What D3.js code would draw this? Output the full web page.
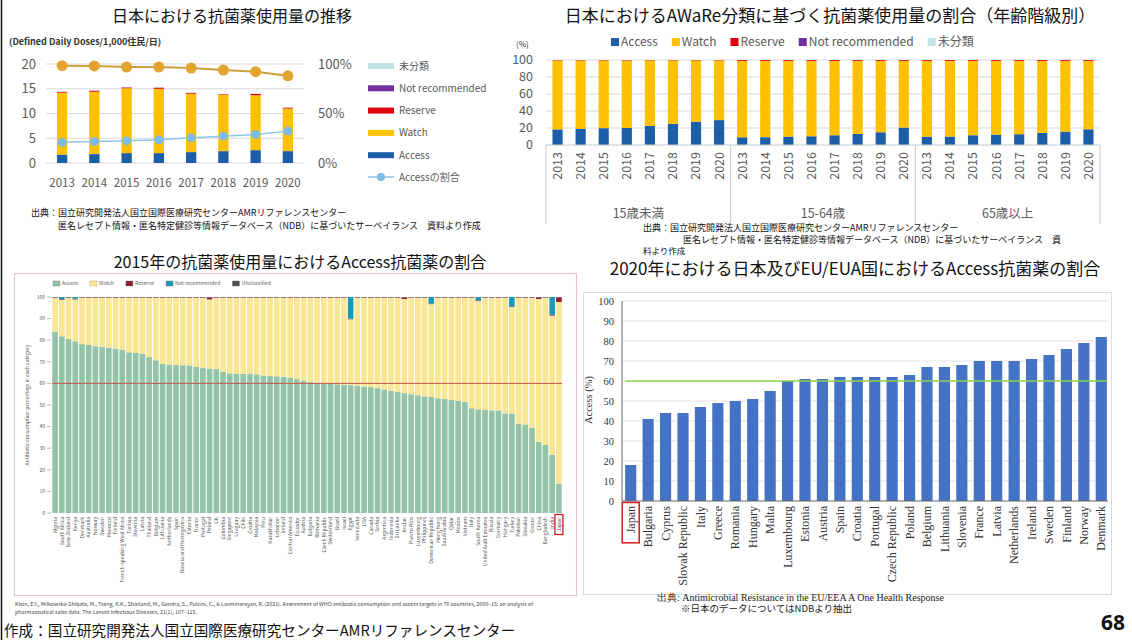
<!DOCTYPE html>
<html><head><meta charset="utf-8">
<script src="https://cdn.jsdelivr.net/npm/d3@7"></script>
<style>
html,body{margin:0;padding:0;background:#fff;}
svg{display:block;font-family:"Noto Sans CJK JP","Noto Sans",sans-serif;}
</style></head><body>
<svg id="slide" width="1132" height="640"></svg>
<script>
// ---------- Panel A: national antimicrobial use trend (DDD / 1,000 inhabitants / day)
const trendYears = ["2013","2014","2015","2016","2017","2018","2019","2020"];
const trendAccess = [1.7, 1.8, 2.0, 2.0, 2.2, 2.4, 2.6, 2.4];
const trendWatch = [12.5, 12.6, 13.1, 13.0, 11.8, 11.4, 11.1, 8.6];
const trendReserve = [0.15, 0.2, 0.15, 0.2, 0.15, 0.1, 0.25, 0.15];
const trendNotRecommended = [0.03, 0.03, 0.03, 0.03, 0.03, 0.03, 0.03, 0.03];
const trendUnclassified = [0.02, 0.02, 0.02, 0.02, 0.02, 0.02, 0.02, 0.02];
const trendAccessShare = [21.0, 21.7, 22.4, 23.4, 25.4, 27.1, 28.8, 32.2];
const trendUpperShare = [98.3, 98.0, 96.9, 96.9, 95.9, 93.9, 92.2, 88.1];
const trendLeftTicks = [0, 5, 10, 15, 20];
const trendRightTicks = ["0%", "50%", "100%"];

// ---------- Panel B: AWaRe share by age group (%)
const ageGroups = ["15歳未満", "15-64歳", "65歳以上"];
const ageAccess = [
  [18.4, 19.0, 19.8, 20.0, 22.5, 25.0, 27.5, 29.3],
  [9.1, 9.2, 9.9, 10.3, 11.5, 13.0, 15.0, 20.5],
  [9.9, 10.0, 11.5, 12.3, 12.7, 14.2, 15.8, 18.5]
];
const ageWatch = [
  [81.1, 80.5, 79.7, 79.5, 77.0, 74.5, 72.0, 70.2],
  [89.8, 89.7, 89.0, 88.6, 87.4, 85.9, 83.9, 78.4],
  [89.0, 88.9, 87.4, 86.6, 86.2, 84.7, 83.1, 80.4]
];
const ageReserve = [
  [0.4, 0.4, 0.4, 0.4, 0.4, 0.4, 0.4, 0.4],
  [1.0, 1.0, 1.0, 1.0, 1.0, 1.0, 1.0, 1.0],
  [1.0, 1.0, 1.0, 1.0, 1.0, 1.0, 1.0, 1.0]
];
const ageNotRecommended = [
  [0.1, 0.1, 0.1, 0.1, 0.1, 0.1, 0.1, 0.1],
  [0.1, 0.1, 0.1, 0.1, 0.1, 0.1, 0.1, 0.1],
  [0.1, 0.1, 0.1, 0.1, 0.1, 0.1, 0.1, 0.1]
];
const ageTicks = [0, 20, 40, 60, 80, 100];

// ---------- Panel C: Access share in 76 countries, 2015 (%)
const kleinCountries = ["Algeria","South Africa","New Zealand","Kenya","Denmark","Australia","Norway","Sweden",
  "Morocco","Finland","French-speaking West Africa","Tunisia","Slovenia","Latvia","Thailand","Belgium",
  "Lithuania","Netherlands","Spain","Bosnia and Herzegovina","Estonia","France","Portugal","Poland","UK",
  "Colombia","Singapore","Uruguay","Chile","Croatia","Malaysia","Peru","Kazakhstan","Lebanon","Ireland",
  "Central America","Ecuador","Austria","Bulgaria","Romania","Czech Republic","Switzerland","Brazil","Israel",
  "Egypt","Venezuela","USA","Canada","Serbia","Argentina","Indonesia","Sri Lanka","Jordan","Puerto Rico",
  "Luxembourg","Philippines","Dominican Republic","Hong Kong","Saudi Arabia","Qatar","Mexico","Vietnam",
  "Italy","South Korea","United Arab Emirates","Russia","Germany","Hungary","Turkey","Pakistan","Slovakia",
  "Greece","China","Bangladesh","India","Japan"];
const kleinAccess = [83.8,81.8,80.6,79.5,78.2,77.8,77.2,76.9,76.5,76.1,75.6,74.4,74.1,73.8,72.2,70.7,
  69.1,68.7,68.5,68.4,68.3,67.6,67.1,66.8,66.6,65.3,64.7,64.5,64.4,64.4,64.2,63.7,63.4,63.3,63.1,62.7,
  62.0,61.3,60.6,60.3,60.0,59.8,59.6,59.4,59.2,58.8,58.5,58.3,57.8,57.2,56.6,56.0,55.5,55.0,54.5,54.0,
  53.7,53.1,52.8,52.3,51.9,51.5,48.5,48.0,47.7,47.5,47.5,46.1,46.1,41.4,41.0,39.5,33.0,31.5,26.9,13.6];
const kleinWatch = [15.8,16.9,19.0,19.4,21.4,21.8,22.4,22.7,23.1,23.5,24.0,25.2,25.5,25.8,27.4,28.9,
  30.5,30.9,31.1,31.2,31.3,32.0,32.5,32.1,33.0,34.3,34.9,35.1,35.2,35.2,35.4,35.9,36.2,36.3,36.5,36.9,
  37.6,38.3,39.0,39.3,39.6,39.8,40.0,40.2,30.5,40.8,41.1,41.3,41.8,42.4,43.0,43.6,43.6,44.6,45.1,45.6,
  43.0,46.5,46.8,47.3,47.7,48.1,51.1,50.2,51.9,52.1,52.1,53.5,49.3,58.2,58.6,60.1,66.1,68.1,64.5,84.1];
const kleinReserve = [0.3,0.3,0.3,0.3,0.3,0.3,0.3,0.3,0.3,0.3,0.3,0.3,0.3,0.3,0.3,0.3,
  0.3,0.3,0.3,0.3,0.3,0.3,0.3,1.0,0.3,0.3,0.3,0.3,0.3,0.3,0.3,0.3,0.3,0.3,0.3,0.3,
  0.3,0.3,0.3,0.3,0.3,0.3,0.3,0.3,0.3,0.3,0.3,0.3,0.3,0.3,0.3,0.3,0.8,0.3,0.3,0.3,
  0.3,0.3,0.3,0.3,0.3,0.3,0.3,0.3,0.3,0.3,0.3,0.3,0.3,0.3,0.3,0.3,0.8,0.3,0.3,2.2];
const kleinNotRecommended = [0.1,1.0,0.1,0.8,0.1,0.1,0.1,0.1,0.1,0.1,0.1,0.1,0.1,0.1,0.1,0.1,
  0.1,0.1,0.1,0.1,0.1,0.1,0.1,0.1,0.1,0.1,0.1,0.1,0.1,0.1,0.1,0.1,0.1,0.1,0.1,0.1,
  0.1,0.1,0.1,0.1,0.1,0.1,0.1,0.1,10.0,0.1,0.1,0.1,0.1,0.1,0.1,0.1,0.1,0.1,0.1,0.1,
  3.0,0.1,0.1,0.1,0.1,0.1,0.1,1.5,0.1,0.1,0.1,0.1,4.3,0.1,0.1,0.1,0.1,0.1,8.3,0.1];
const kleinTicks = [0,10,20,30,40,50,60,70,80,90,100];
const kleinTarget = 60;

// ---------- Panel D: Access share, Japan and EU/EEA, 2020 (%)
const euCountries = ["Japan","Bulgaria","Cyprus","Slovak Republic","Italy","Greece","Romania","Hungary","Malta",
  "Luxembourg","Estonia","Austria","Spain","Croatia","Portugal","Czech Republic","Poland","Belgium","Lithuania",
  "Slovenia","France","Latvia","Netherlands","Ireland","Sweden","Finland","Norway","Denmark"];
const euAccess = [18,41,44,44,47,49,50,51,55,60,61,61,62,62,62,62,63,67,67,68,70,70,70,71,73,76,79,82];
const euTicks = [0,10,20,30,40,50,60,70,80,90,100];
const euTarget = 60;

// ---------- drawing
const svg = d3.select("#slide");
const GRAY = "#595959";
const SERIF = '"Liberation Serif","DejaVu Serif",serif';
const awareKeys = ["access","watch","reserve","notRec","unclass"];
const awareColor = {access:"#1d5ea8", watch:"#ffc000", reserve:"#e00012", notRec:"#7030a0", unclass:"#bfe2e6"};

svg.append("line").attr("x1",1.5).attr("x2",1.5).attr("y1",0).attr("y2",640)
  .attr("stroke","#111").attr("stroke-width",1.5);

// ===== Panel A
(function(){
  const g = svg.append("g");
  g.append("text").attr("x",232).attr("y",22).attr("text-anchor","middle")
    .attr("font-size",16).attr("fill","#111").text("日本における抗菌薬使用量の推移");
  g.append("text").attr("x",9).attr("y",45).attr("font-size",9).attr("font-weight",700)
    .attr("fill","#333").text("(Defined Daily Doses/1,000住民/日)");

  const x = d3.scaleBand().domain(trendYears).range([46,304]).paddingInner(0.68).paddingOuter(0.34);
  const y = d3.scaleLinear().domain([0,20]).range([163,64]);
  const yp = d3.scaleLinear().domain([0,100]).range([163,64]);

  g.selectAll("line.grid").data(trendLeftTicks).join("line").attr("class","grid")
    .attr("x1",46).attr("x2",304).attr("y1",d=>y(d)).attr("y2",d=>y(d))
    .attr("stroke","#d9d9d9").attr("stroke-width",1);
  g.selectAll("text.yl").data(trendLeftTicks).join("text").attr("class","yl")
    .attr("x",36).attr("y",d=>y(d)).attr("dy","0.35em").attr("text-anchor","end")
    .attr("font-size",13).attr("fill",GRAY).text(d=>d);
  g.selectAll("text.yr").data(trendRightTicks).join("text").attr("class","yr")
    .attr("x",318).attr("y",(d,i)=>yp(i*50)).attr("dy","0.35em")
    .attr("font-size",13).attr("fill",GRAY).text(d=>d);

  const rows = trendYears.map((yr,i)=>({year:yr, access:trendAccess[i], watch:trendWatch[i],
    reserve:trendReserve[i], notRec:trendNotRecommended[i], unclass:trendUnclassified[i]}));
  const stack = d3.stack().keys(awareKeys)(rows);
  g.selectAll("g.layer").data(stack).join("g").attr("class","layer").attr("fill",d=>awareColor[d.key])
    .selectAll("rect").data(d=>d).join("rect")
    .attr("x",d=>x(d.data.year)).attr("width",x.bandwidth())
    .attr("y",d=>y(d[1])).attr("height",d=>Math.max(0,y(d[0])-y(d[1])));

  g.selectAll("text.xl").data(trendYears).join("text").attr("class","xl")
    .attr("x",d=>x(d)+x.bandwidth()/2).attr("y",187).attr("text-anchor","middle")
    .attr("font-size",11.5).attr("fill",GRAY).text(d=>d);

  const cx = d=>x(d)+x.bandwidth()/2;
  const upper = trendYears.map((d,i)=>[cx(d), yp(trendUpperShare[i])]);
  const share = trendYears.map((d,i)=>[cx(d), yp(trendAccessShare[i])]);
  g.append("path").attr("d",d3.line()(upper)).attr("fill","none").attr("stroke","#c9a03c").attr("stroke-width",2);
  g.selectAll("circle.up").data(upper).join("circle").attr("class","up")
    .attr("cx",d=>d[0]).attr("cy",d=>d[1]).attr("r",5.5).attr("fill","#e3a32f");
  g.append("path").attr("d",d3.line()(share)).attr("fill","none").attr("stroke","#8ec5ec").attr("stroke-width",1.5);
  g.selectAll("circle.sh").data(share).join("circle").attr("class","sh")
    .attr("cx",d=>d[0]).attr("cy",d=>d[1]).attr("r",4.5).attr("fill","#7fbbe8");

  const legend = [["unclass","未分類"],["notRec","Not recommended"],["reserve","Reserve"],["watch","Watch"],["access","Access"]];
  legend.forEach((d,i)=>{
    const yy = 66 + i*22.3;
    g.append("rect").attr("x",368).attr("y",yy-3).attr("width",26).attr("height",6).attr("fill",awareColor[d[0]]);
    g.append("text").attr("x",399).attr("y",yy).attr("dy","0.35em").attr("font-size",10).attr("fill",GRAY).text(d[1]);
  });
  g.append("line").attr("x1",368).attr("x2",394).attr("y1",177).attr("y2",177).attr("stroke","#8ec5ec").attr("stroke-width",1.5);
  g.append("circle").attr("cx",381).attr("cy",177).attr("r",4).attr("fill","#7fbbe8");
  g.append("text").attr("x",399).attr("y",177).attr("dy","0.35em").attr("font-size",10).attr("fill",GRAY).text("Accessの割合");

  g.append("text").attr("x",31).attr("y",216).attr("font-size",9).attr("fill","#111")
    .text("出典：国立研究開発法人国立国際医療研究センターAMRリファレンスセンター");
  g.append("text").attr("x",58).attr("y",229).attr("font-size",9).attr("fill","#111")
    .text("匿名レセプト情報・匿名特定健診等情報データベース（NDB）に基づいたサーベイランス　資料より作成");
})();

// ===== Panel B
(function(){
  const g = svg.append("g");
  g.append("text").attr("x",830).attr("y",22).attr("text-anchor","middle")
    .attr("font-size",17).attr("fill","#111").text("日本におけるAWaRe分類に基づく抗菌薬使用量の割合（年齢階級別）");

  // legend row
  const legend = [["access","Access"],["watch","Watch"],["reserve","Reserve"],["notRec","Not recommended"],["unclass","未分類"]];
  let lx = 611;
  legend.forEach(d=>{
    g.append("rect").attr("x",lx).attr("y",38).attr("width",8).attr("height",8).attr("fill",awareColor[d[0]]);
    const t = g.append("text").attr("x",lx+10).attr("y",42).attr("dy","0.35em").attr("font-size",12)
      .attr("fill",GRAY).text(d[1]);
    lx += 10 + t.node().getComputedTextLength() + 14;
  });

  const keys = [];
  ageGroups.forEach((grp,gi)=>trendYears.forEach((yr,yi)=>keys.push({key:grp+"|"+yr, gi, yi, year:yr})));
  const x = d3.scaleBand().domain(keys.map(k=>k.key)).range([546,1100]).paddingInner(0.56).paddingOuter(0.28);
  const y = d3.scaleLinear().domain([0,100]).range([145,60]);

  g.selectAll("line.grid").data(ageTicks.slice(1)).join("line").attr("class","grid")
    .attr("x1",546).attr("x2",1100).attr("y1",d=>y(d)).attr("y2",d=>y(d)).attr("stroke","#d9d9d9");
  g.selectAll("text.yl").data(ageTicks).join("text").attr("class","yl")
    .attr("x",533).attr("y",d=>y(d)).attr("dy","0.35em").attr("text-anchor","end")
    .attr("font-size",12.5).attr("fill",GRAY).text(d=>d);
  g.append("text").attr("x",516).attr("y",47).attr("font-size",8).attr("fill","#333").text("(%)");

  const rows = keys.map(k=>({key:k.key, access:ageAccess[k.gi][k.yi], watch:ageWatch[k.gi][k.yi],
    reserve:ageReserve[k.gi][k.yi], notRec:ageNotRecommended[k.gi][k.yi], unclass:0}));
  const stack = d3.stack().keys(awareKeys)(rows);
  g.selectAll("g.layer").data(stack).join("g").attr("class","layer").attr("fill",d=>awareColor[d.key])
    .selectAll("rect").data(d=>d).join("rect")
    .attr("x",d=>x(d.data.key)).attr("width",x.bandwidth())
    .attr("y",d=>y(d[1])).attr("height",d=>Math.max(0,y(d[0])-y(d[1])));

  g.append("line").attr("x1",546).attr("x2",1100).attr("y1",y(0)).attr("y2",y(0)).attr("stroke","#c8c8c8");
  [0,8,16,24].forEach(n=>{
    const xx = 546 + (1100-546)*n/24;
    g.append("line").attr("x1",xx).attr("x2",xx).attr("y1",y(0)).attr("y2",224).attr("stroke","#c8c8c8");
  });
  g.selectAll("text.xl").data(keys).join("text").attr("class","xl")
    .attr("transform",d=>`translate(${x(d.key)+x.bandwidth()/2},152) rotate(-90)`)
    .attr("text-anchor","end").attr("dy","0.35em").attr("font-size",12.5).attr("fill",GRAY).text(d=>d.year);
  ageGroups.forEach((grp,gi)=>{
    g.append("text").attr("x",546 + (1100-546)*(gi*8+4)/24).attr("y",214).attr("dy","0.35em").attr("text-anchor","middle")
      .attr("font-size",12.5).attr("fill",GRAY).text(grp);
  });

  g.append("text").attr("x",643).attr("y",231).attr("font-size",9).attr("fill","#111")
    .text("出典：国立研究開発法人国立国際医療研究センターAMRリファレンスセンター");
  g.append("text").attr("x",683).attr("y",243).attr("font-size",9).attr("fill","#111")
    .text("匿名レセプト情報・匿名特定健診等情報データベース（NDB）に基づいたサーベイランス　資");
  g.append("text").attr("x",643).attr("y",254).attr("font-size",8.5).attr("fill","#111").text("料より作成");
})();

// ===== Panel C
(function(){
  const g = svg.append("g");
  const colors = {access:"#93c4a7", watch:"#f9e795", reserve:"#8c1c36", notRec:"#1a9bb4", unclass:"#4d4d4d"};
  g.append("text").attr("x",300).attr("y",268).attr("text-anchor","middle")
    .attr("font-size",16).attr("fill","#111").text("2015年の抗菌薬使用量におけるAccess抗菌薬の割合");
  g.append("rect").attr("x",14.5).attr("y",273.5).attr("width",562).attr("height",322)
    .attr("fill","none").attr("stroke","#e4c6ca").attr("stroke-width",1.2);

  const legend = [["access","Access"],["watch","Watch"],["reserve","Reserve"],["notRec","Not recommended"],["unclass","Unclassified"]];
  let lx = 53;
  legend.forEach(d=>{
    g.append("rect").attr("x",lx).attr("y",281).attr("width",7).attr("height",5)
      .attr("fill",colors[d[0]]).attr("stroke",d[0]==="watch"?"#b8a84a":"#777").attr("stroke-width",0.4);
    const t = g.append("text").attr("x",lx+9).attr("y",283.5).attr("dy","0.35em").attr("font-size",5.2)
      .attr("fill","#666").text(d[1]);
    lx += 9 + t.node().getComputedTextLength() + 12;
  });

  const x = d3.scaleBand().domain(kleinCountries).range([52,562]).paddingInner(0.16).paddingOuter(0.04);
  const y = d3.scaleLinear().domain([0,100]).range([513,297]);
  g.selectAll("text.yl").data(kleinTicks).join("text").attr("class","yl")
    .attr("x",45).attr("y",d=>y(d)).attr("dy","0.35em").attr("text-anchor","end")
    .attr("font-size",5).attr("fill","#555").text(d=>d);
  g.selectAll("line.tk").data(kleinTicks).join("line").attr("class","tk")
    .attr("x1",47).attr("x2",51).attr("y1",d=>y(d)).attr("y2",d=>y(d)).attr("stroke","#888").attr("stroke-width",0.6);
  g.append("text").attr("transform","translate(29,405) rotate(-90)").attr("text-anchor","middle")
    .attr("font-size",5).attr("fill","#555").text("Antibiotic consumption percentage in each category");

  const rows = kleinCountries.map((c,i)=>({country:c, access:kleinAccess[i], watch:kleinWatch[i],
    reserve:kleinReserve[i], notRec:kleinNotRecommended[i], unclass:0}));
  const stack = d3.stack().keys(awareKeys)(rows);
  g.selectAll("g.layer").data(stack).join("g").attr("class","layer").attr("fill",d=>colors[d.key])
    .selectAll("rect").data(d=>d).join("rect")
    .attr("x",d=>x(d.data.country)).attr("width",x.bandwidth())
    .attr("y",d=>y(d[1])).attr("height",d=>Math.max(0,y(d[0])-y(d[1])));

  g.append("line").attr("x1",52).attr("x2",562).attr("y1",y(kleinTarget)).attr("y2",y(kleinTarget))
    .attr("stroke","#c8564a").attr("stroke-width",1);

  g.selectAll("text.xl").data(kleinCountries).join("text").attr("class","xl")
    .attr("transform",d=>`translate(${x(d)+x.bandwidth()/2},517) rotate(-90)`)
    .attr("text-anchor","end").attr("dy","0.35em").attr("font-size",5).attr("fill","#555").text(d=>d);
  const jx = x("Japan")+x.bandwidth()/2;
  g.append("rect").attr("x",jx-4).attr("y",514.5).attr("width",8).attr("height",20)
    .attr("fill","none").attr("stroke","#d01c1c").attr("stroke-width",1.3);

  g.append("text").attr("x",15).attr("y",606).attr("font-size",5.3).attr("fill","#444")
    .text("Klein, E.Y., Milkowska-Shibata, M., Tseng, K.K., Sharland, M., Gandra, S., Pulcini, C., & Laxminarayan, R. (2021). Assessment of WHO antibiotic consumption and access targets in 76 countries, 2000–15: an analysis of");
  g.append("text").attr("x",15).attr("y",614).attr("font-size",5.3).attr("fill","#444")
    .text("pharmaceutical sales data. The Lancet Infectious Diseases, 21(1), 107–115.");
  g.append("text").attr("x",4).attr("y",636).attr("font-size",14.6).attr("fill","#111")
    .text("作成：国立研究開発法人国立国際医療研究センターAMRリファレンスセンター");
})();

// ===== Panel D
(function(){
  const g = svg.append("g");
  g.append("text").attr("x",855).attr("y",275).attr("text-anchor","middle")
    .attr("font-size",17).attr("fill","#111").text("2020年における日本及びEU/EUA国におけるAccess抗菌薬の割合");
  g.append("rect").attr("x",583.5).attr("y",292.5).attr("width",528).attr("height",302)
    .attr("fill","none").attr("stroke","#dcdcdc");

  const x = d3.scaleBand().domain(euCountries).range([622,1110]).paddingInner(0.36).paddingOuter(0.18);
  const y = d3.scaleLinear().domain([0,100]).range([501,301]);
  g.selectAll("line.grid").data(euTicks.slice(1)).join("line").attr("class","grid")
    .attr("x1",622).attr("x2",1108).attr("y1",d=>y(d)).attr("y2",d=>y(d)).attr("stroke","#e3e3e3");
  g.selectAll("text.yl").data(euTicks).join("text").attr("class","yl")
    .attr("x",614).attr("y",d=>y(d)).attr("dy","0.35em").attr("text-anchor","end")
    .attr("font-family",SERIF).attr("font-size",10.5).attr("fill","#333").text(d=>d);
  g.append("text").attr("transform","translate(592,400) rotate(-90)").attr("text-anchor","middle")
    .attr("font-family",SERIF).attr("font-size",10.5).attr("fill","#333").text("Access (%)");

  g.selectAll("rect.bar").data(euCountries).join("rect").attr("class","bar")
    .attr("x",d=>x(d)).attr("width",x.bandwidth())
    .attr("y",(d,i)=>y(euAccess[i])).attr("height",(d,i)=>y(0)-y(euAccess[i])).attr("fill","#4472c4");

  g.append("line").attr("x1",622).attr("x2",622).attr("y1",y(0)).attr("y2",y(100)).attr("stroke","#666");
  g.append("line").attr("x1",622).attr("x2",1108).attr("y1",y(0)).attr("y2",y(0)).attr("stroke","#666");
  g.append("line").attr("x1",x(euCountries[0])).attr("x2",x(euCountries[euCountries.length-1])+x.bandwidth())
    .attr("y1",y(euTarget)).attr("y2",y(euTarget)).attr("stroke","#92d050").attr("stroke-width",1.5);

  const labels = g.selectAll("text.xl").data(euCountries).join("text").attr("class","xl")
    .attr("transform",d=>`translate(${x(d)+x.bandwidth()/2},506) rotate(-90)`)
    .attr("text-anchor","end").attr("dy","0.35em").attr("font-family",SERIF).attr("font-size",12)
    .attr("fill","#333").text(d=>d);
  const jw = labels.filter(d=>d==="Japan").node().getComputedTextLength();
  const jx = x("Japan")+x.bandwidth()/2;
  g.append("rect").attr("x",jx-8.5).attr("y",502.5).attr("width",17).attr("height",jw+13)
    .attr("fill","none").attr("stroke","#d01c1c").attr("stroke-width",1.5);

  g.append("text").attr("x",657).attr("y",601).attr("font-family",SERIF).attr("font-size",10).attr("fill","#222")
    .text("出典: Antimicrobial Resistance in the EU/EEA A One Health Response");
  g.append("text").attr("x",681).attr("y",612).attr("font-size",9.5).attr("fill","#222")
    .text("※日本のデータについてはNDBより抽出");
  g.append("text").attr("x",1125).attr("y",630).attr("text-anchor","end").attr("font-family",'"Noto Sans","Open Sans",sans-serif')
    .attr("font-size",21).attr("font-weight",700).attr("fill","#111").text("68");
})();
</script></body></html>
